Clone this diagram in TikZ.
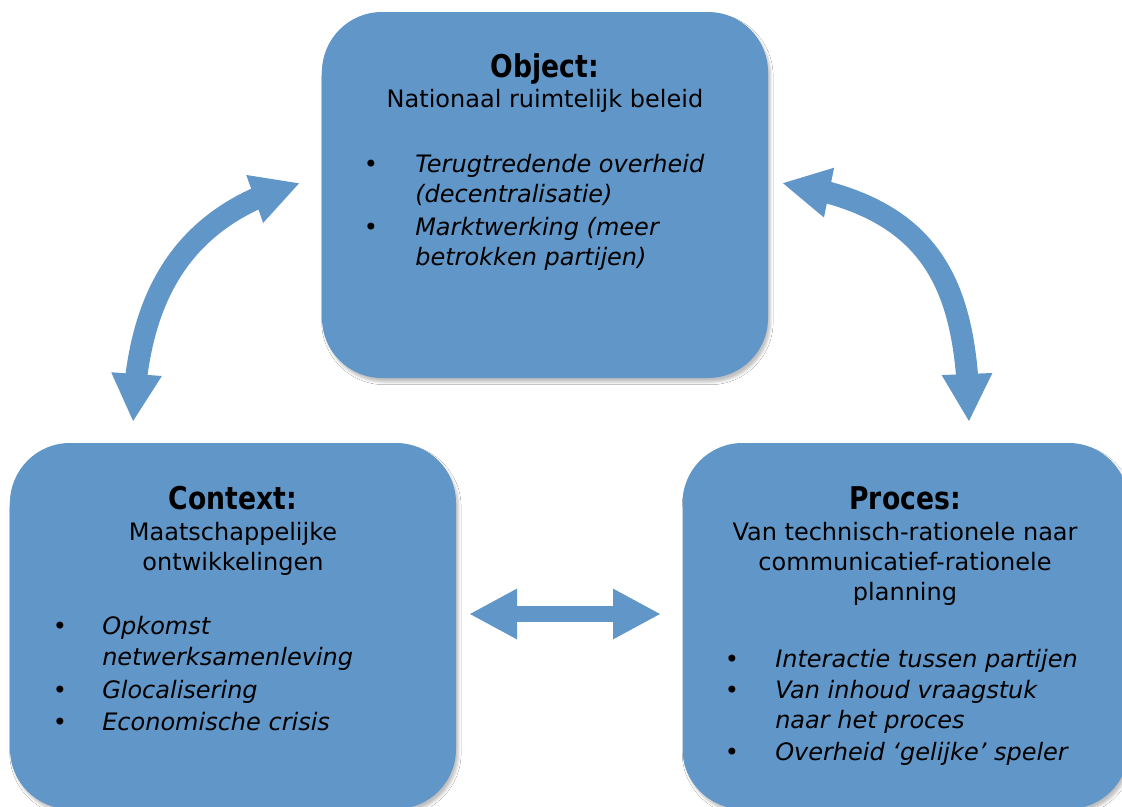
\documentclass[tikz,border=0pt]{standalone}
\usepackage{fontspec}
\setmainfont{DejaVu Sans}
\newfontfamily\headfont{DejaVu Sans}[FakeStretch=0.85]
\usetikzlibrary{arrows.meta,bending,shadows.blur}
\definecolor{boxblue}{RGB}{97,150,200}
\begin{document}
\begin{tikzpicture}[x=0.75pt,y=-0.75pt,
  panel/.style={fill=boxblue, rounded corners=45pt, minimum width=334.5pt,
    minimum height=274.5pt, inner sep=0pt,
    blur shadow={shadow xshift=1.8pt, shadow yshift=-3pt,
      shadow blur radius=2pt, shadow opacity=25}},
  head/.style={anchor=base, inner sep=0pt,
    font=\headfont\bfseries\fontsize{23.5}{28}\selectfont},
  txt/.style={anchor=base, inner sep=0pt, font=\fontsize{18}{22}\selectfont},
  itm/.style={anchor=base west, inner sep=0pt,
    font=\fontsize{18}{22}\selectfont\itshape},
  dot/.style={anchor=base, inner sep=0pt, font=\fontsize{18}{22}\selectfont},
  flow/.style={draw=boxblue, line width=16.5pt, {Triangle[width=35.25pt,length=36pt]}-{Triangle[width=35.25pt,length=36pt]}},
]
\clip (0,0) rectangle (1122,807);
\fill[white] (0,0) rectangle (1122,807);

% the three panels
\node[panel] (object)  at (545,195)   {};
\node[panel] (context) at (233,626)   {};
\node[panel] (proces)  at (905.5,626) {};

% Object
\node[head] (objT) at (545,77)  {Object:};
\node[txt]  (objS) at (545,107) {Nationaal ruimtelijk beleid};
\node[dot]  (objB1) at (371,172) {•};
\node[itm]  (objI1a) at (415,172) {Terugtredende overheid};
\node[itm]  (objI1b) at (415,202) {(decentralisatie)};
\node[dot]  (objB2) at (371,235) {•};
\node[itm]  (objI2a) at (415,235) {Marktwerking (meer};
\node[itm]  (objI2b) at (415,265) {betrokken partijen)};

% Context
\node[head] (conT)  at (233,509) {Context:};
\node[txt]  (conS1) at (233,540) {Maatschappelijke};
\node[txt]  (conS2) at (233,570) {ontwikkelingen};
\node[dot]  (conB1) at (60,634) {•};
\node[itm]  (conI1a) at (102,634) {Opkomst};
\node[itm]  (conI1b) at (102,665) {netwerksamenleving};
\node[dot]  (conB2) at (60,698) {•};
\node[itm]  (conI2) at (102,698) {Glocalisering};
\node[dot]  (conB3) at (60,730) {•};
\node[itm]  (conI3) at (102,730) {Economische crisis};

% Proces
\node[head] (proT)  at (905,509) {Proces:};
\node[txt]  (proS1) at (905,540) {Van technisch-rationele naar};
\node[txt]  (proS2) at (905,570) {communicatief-rationele};
\node[txt]  (proS3) at (905,600) {planning};
\node[dot]  (proB1) at (732,667) {•};
\node[itm]  (proI1) at (775,667) {Interactie tussen partijen};
\node[dot]  (proB2) at (732,698) {•};
\node[itm]  (proI2a) at (775,698) {Van inhoud vraagstuk};
\node[itm]  (proI2b) at (775,728) {naar het proces};
\node[dot]  (proB3) at (732,760) {•};
\node[itm]  (proI3) at (775,760) {Overheid ‘gelijke’ speler};

% double-headed arrows between the panels
\coordinate (lt) at (300,183);
\coordinate (lb) at (133,422);
\coordinate (rt) at (782,183);
\coordinate (rb) at (969,422);
\coordinate (hl) at (469,614);
\coordinate (hr) at (661,614);
\draw[flow] (lb) .. controls (136,300) and (180,215) .. (lt);
\draw[flow] (rt) .. controls (930,205) and (968,280) .. (rb);
\draw[flow, line width=12pt] (hl) -- (hr);
\end{tikzpicture}
\end{document}
